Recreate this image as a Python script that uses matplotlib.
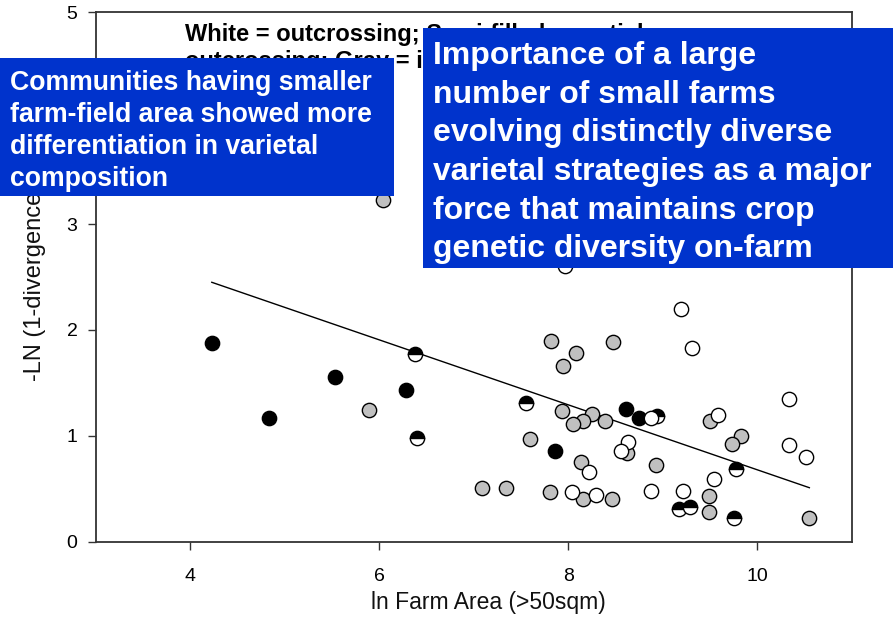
import matplotlib
matplotlib.use("Agg")
import matplotlib.pyplot as plt
from matplotlib.patches import Rectangle

plt.rcParams['font.family'] = ['Liberation Sans', 'DejaVu Sans']

# --- data ---
gray_x = [6.04, 5.89, 7.09, 7.34, 7.82, 8.47, 8.08, 7.94, 7.93, 8.25, 8.16, 8.05, 8.39,
          9.50, 7.60, 8.62, 9.83, 9.73, 8.13, 8.93, 7.81, 8.16, 8.46, 9.49, 9.49, 10.55]
gray_y = [3.23, 1.24, 0.51, 0.51, 1.90, 1.89, 1.78, 1.66, 1.23, 1.21, 1.14, 1.11, 1.14,
          1.14, 0.97, 0.84, 1.00, 0.92, 0.75, 0.72, 0.47, 0.40, 0.40, 0.43, 0.28, 0.22]

black_x = [4.23, 4.84, 5.53, 6.28, 7.86, 8.61, 8.75]
black_y = [1.88, 1.17, 1.56, 1.43, 0.86, 1.25, 1.17]

half_x = [6.38, 6.40, 7.55, 8.94, 9.77, 9.17, 9.29, 9.75]
half_y = [1.77, 0.98, 1.31, 1.19, 0.69, 0.31, 0.33, 0.22]

white_x = [9.19, 9.31, 10.33, 8.88, 9.58, 8.63, 8.56, 10.33, 10.51, 8.22, 9.54,
           8.04, 8.29, 8.87, 9.21, 7.97]
white_y = [2.20, 1.83, 1.35, 1.17, 1.20, 0.94, 0.86, 0.91, 0.80, 0.66, 0.59,
           0.47, 0.44, 0.48, 0.48, 2.60]

# regression line end points
fit_x = [4.23, 10.55]
fit_y = [2.45, 0.51]

x_ticks = [4, 6, 8, 10]
y_ticks = [0, 1, 2, 3, 4, 5]

note_text = "White = outcrossing; Semi-filled = partial\noutcrossing; Gray = inbreeding"
left_box_text = ("Communities having smaller\nfarm-field area showed more\n"
                 "differentiation in varietal\ncomposition")
right_box_text = ("Importance of a large\nnumber of small farms\n"
                  "evolving distinctly diverse\nvarietal strategies as a major\n"
                  "force that maintains crop\ngenetic diversity on-farm")

W, H = 893, 633
fig = plt.figure(figsize=(W / 100, H / 100), dpi=100)
ax = fig.add_axes([95.5 / W, 1 - 541.7 / H, (851.9 - 95.5) / W, (541.7 - 12.3) / H])

ax.plot(fit_x, fit_y, color='black', lw=1.0, zorder=2)

ms = 10.3
ax.plot(gray_x, gray_y, 'o', ms=ms, mfc='#c0c0c0', mec='black', mew=1.0, zorder=3)
ax.plot(black_x, black_y, 'o', ms=ms, mfc='black', mec='black', mew=1.0, zorder=3)
ax.plot(half_x, half_y, 'o', ms=ms, fillstyle='top', mfc='black', mfcalt='white',
        mec='black', mew=1.0, zorder=3)
ax.plot(white_x, white_y, 'o', ms=ms, mfc='white', mec='black', mew=1.0, zorder=3)

ax.set_xlim(3, 11)
ax.set_ylim(0, 5)
ax.set_xticks(x_ticks)
ax.set_yticks(y_ticks)
ax.tick_params(direction='out', length=6, width=1.0, color='#333333',
               labelsize=14, labelcolor='black')
ax.tick_params(axis='x', pad=13)
ax.tick_params(axis='y', pad=7)
for sp in ax.spines.values():
    sp.set_linewidth(1.3)
    sp.set_color('#333333')

ax.set_xlabel('ln Farm Area (>50sqm)', fontsize=16.5, color='#111111')
ax.xaxis.set_label_coords(0.52, -0.094)
ax.set_ylabel('-LN (1-divergence)', fontsize=17, color='#111111')
ax.yaxis.set_label_coords(-0.066, 0.49)

# partially hidden legend note
ax.text(185 / W, 1 - 22.8 / H, note_text, transform=fig.transFigure, fontsize=17,
        fontweight='bold', va='top', ha='left', linespacing=1.25, zorder=1)

blue = '#0033cc'
fig.patches.append(Rectangle((0, 1 - 195.7 / H), 394 / W, (195.7 - 57.7) / H,
                             transform=fig.transFigure, facecolor=blue,
                             edgecolor='none', zorder=5))
fig.patches.append(Rectangle((423 / W, 1 - 267.7 / H), (W - 423) / W, (267.7 - 28) / H,
                             transform=fig.transFigure, facecolor=blue,
                             edgecolor='none', zorder=5))

fig.text(10 / W, 1 - 70 / H, left_box_text, fontsize=19.2, fontweight='bold',
         color='white', va='top', ha='left', linespacing=1.3, zorder=6)
fig.text(433 / W, 1 - 41 / H, right_box_text, fontsize=23, fontweight='bold',
         color='white', va='top', ha='left', linespacing=1.375, zorder=6)

fig.savefig('out.png', dpi=100)
